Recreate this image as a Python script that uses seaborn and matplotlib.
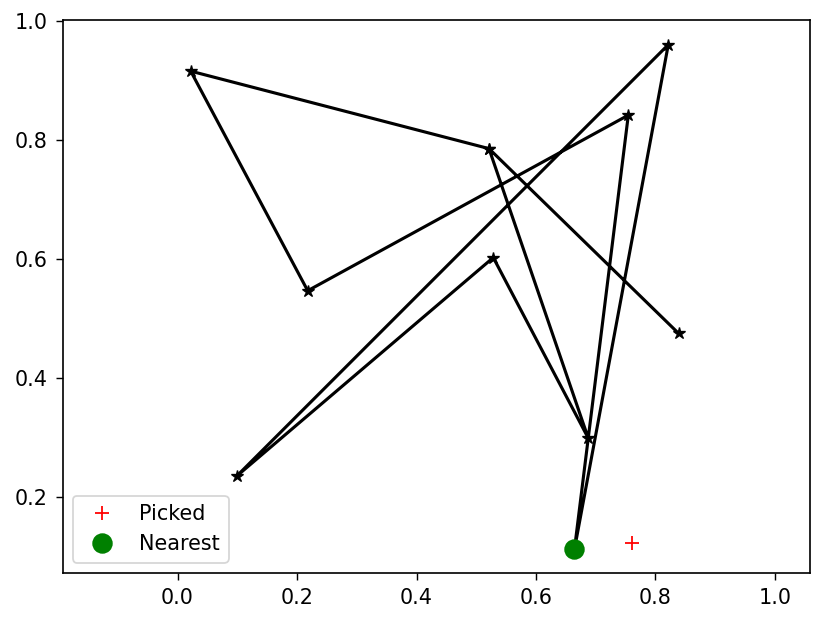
import matplotlib
matplotlib.use("Agg")
import matplotlib.pyplot as plt
import seaborn as sns
import pandas as pd

# path of the data line (in drawing order)
path_x = [0.8388, 0.5213, 0.0221, 0.2179, 0.7545, 0.6644, 0.8214, 0.0991, 0.5285, 0.6875, 0.5213]
path_y = [0.4748, 0.7857, 0.9160, 0.5467, 0.8420, 0.1121, 0.9605, 0.2350, 0.6025, 0.2987, 0.7857]

picked_x = [0.7602]
picked_y = [0.1222]
nearest_x = [0.6644]
nearest_y = [0.1121]

df = pd.DataFrame({"x": path_x, "y": path_y})

plt.rcParams["font.size"] = 11.7
plt.rcParams["xtick.major.size"] = 4.1
plt.rcParams["ytick.major.size"] = 4.1
plt.rcParams["xtick.major.pad"] = 4.1
plt.rcParams["ytick.major.pad"] = 4.1
plt.rcParams["axes.linewidth"] = 0.94

fig = plt.figure(figsize=(821 / 128, 624 / 128), dpi=128)
ax = fig.add_axes([62.5 / 821, (624 - 573) / 624, (810 - 62.5) / 821, (573 - 20) / 624])

sns.lineplot(data=df, x="x", y="y", sort=False, estimator=None, color="black",
             marker="*", markersize=7, markeredgecolor="black", linewidth=1.75, ax=ax)
ax.plot(picked_x, picked_y, "+", color="red", markersize=7.5, label="Picked")
ax.plot(nearest_x, nearest_y, "o", color="green", markersize=10.5, label="Nearest")

ax.set_xlim(-0.1925, 1.0586)
ax.set_ylim(0.072, 1.002)
ax.set_xticks([0.0, 0.2, 0.4, 0.6, 0.8, 1.0])
ax.set_yticks([0.2, 0.4, 0.6, 0.8, 1.0])
ax.set_xlabel("")
ax.set_ylabel("")
ax.legend(loc="lower left", fontsize=11.7)

fig.savefig("out.png", dpi=128)
